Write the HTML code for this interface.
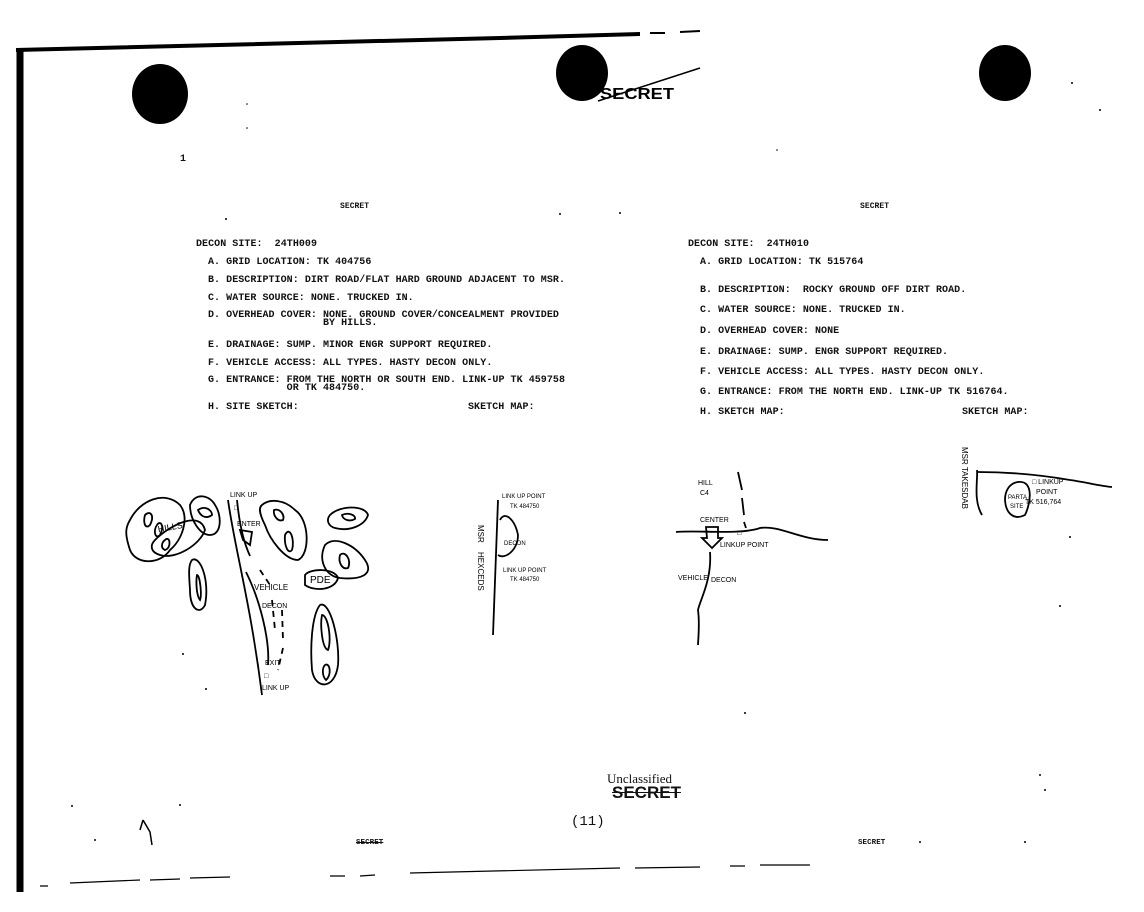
<!DOCTYPE html>
<html><head><meta charset="utf-8"><style>
body{margin:0;width:1144px;height:912px;background:#fff;position:relative;overflow:hidden;font-family:"Liberation Mono",monospace;}
.t{position:absolute;font-size:10px;font-weight:bold;white-space:pre;color:#111;line-height:10px;letter-spacing:0.05px}
svg{position:absolute;left:0;top:0}
</style></head><body>
<svg width="1144" height="912" viewBox="0 0 1144 912">
<g fill="none" stroke="#000">
<path d="M16 50 L500 38 L640 34" stroke-width="4"/>
<path d="M650 33 L665 33 M680 32 L700 31" stroke-width="2"/>
<path d="M20 48 L20 892" stroke-width="7"/>
<path d="M40 886 L48 886 M70 883 L140 880 M150 880 L180 879 M190 878 L230 877 M330 876 L345 876 M360 876 L375 875 M410 873 L620 868 M635 868 L700 867 M730 866 L745 866 M760 865 L810 865" stroke-width="1.2"/>
<path d="M598 101 L700 68" stroke-width="1.5"/>
<path d="M140 830 L143 820 M143 820 L150 832 L152 845" stroke-width="1.5"/>
</g>
<ellipse cx="160" cy="94" rx="28" ry="30" fill="#000"/>
<ellipse cx="582" cy="73" rx="26" ry="28" fill="#000"/>
<ellipse cx="1005" cy="73" rx="26" ry="28" fill="#000"/>
<text x="600" y="99" font-family="Liberation Sans Narrow,Liberation Sans,sans-serif" font-weight="bold" font-size="16" fill="#000" textLength="74" lengthAdjust="spacingAndGlyphs">SECRET</text>
<!-- left sketch -->
<g fill="none" stroke="#000" stroke-width="1.8">
<path d="M130 520 C140 500 165 490 180 505 C190 518 182 540 170 550 C160 565 136 565 130 550 C125 535 125 528 130 520Z"/>
<path d="M145 515 C150 510 155 515 150 525 C145 530 143 522 145 515Z"/>
<path d="M157 525 C160 520 165 525 160 535 C155 540 153 530 157 525Z"/>
<path d="M155 540 C170 525 200 510 205 530 C200 545 175 560 160 555 C150 552 150 545 155 540Z"/>
<path d="M165 540 C170 535 172 548 165 550 C160 548 162 542 165 540Z"/>
<path d="M190 505 C195 492 210 495 215 505 C222 515 222 535 210 535 C200 535 190 520 190 505Z"/>
<path d="M198 510 C205 505 212 510 212 515 C205 520 200 515 198 510Z"/>
<path d="M192 560 C200 555 210 580 205 605 C200 615 190 610 190 590 C189 575 188 565 192 560Z"/>
<path d="M197 575 C200 575 202 595 200 600 C196 595 196 580 197 575Z"/>
<path d="M228 500 C235 550 250 600 262 695" />
<path d="M237 500 C240 530 245 545 250 556"/>
<path d="M246 572 C260 600 270 640 268 665"/>
<path d="M260 570 L270 585 M272 600 L275 630 M282 610 L283 640 M283 648 L278 670" stroke-dasharray="6 5"/>
<path d="M262 505 C270 498 285 500 295 510 C310 520 310 555 298 560 C285 560 270 540 265 525 C260 515 258 508 262 505Z"/>
<path d="M274 510 C280 508 285 515 283 520 C278 522 273 516 274 510Z"/>
<path d="M285 535 C290 525 295 540 292 550 C288 555 284 545 285 535Z"/>
<path d="M330 515 C340 505 365 505 368 515 C365 525 350 532 335 528 C328 526 326 520 330 515Z"/>
<path d="M342 515 C348 512 356 515 355 519 C350 522 343 520 342 515Z"/>
<path d="M325 545 C335 535 355 545 365 560 C375 575 360 580 340 578 C325 576 318 560 325 545Z"/>
<path d="M340 555 C345 550 352 560 348 568 C342 570 338 562 340 555Z"/>
<path d="M305 575 C310 568 335 568 338 578 C335 590 315 592 305 585Z"/>
<path d="M320 605 C330 600 340 640 338 665 C335 690 315 690 312 670 C310 645 312 615 320 605Z"/>
<path d="M322 615 C328 615 332 640 328 650 C322 648 320 625 322 615Z"/>
<path d="M325 665 C330 662 332 675 326 680 C322 676 322 668 325 665Z"/>
<path d="M240 530 L252 532 L250 545 L243 540Z"/>
<path d="M498 500 L493 635"/>
<path d="M500 520 C505 510 515 520 518 535 C518 550 505 560 498 555"/>
</g>
<g font-family="Liberation Sans,sans-serif" font-size="7" fill="#000">
<text x="230" y="497">LINK UP</text><text x="234" y="510">□</text><text x="237" y="526">ENTER</text>
<text x="158" y="532" font-size="9" transform="rotate(-10 160 530)">HILLS</text>
<text x="254" y="590" font-size="8">VEHICLE</text><text x="262" y="608" font-size="7">DECON</text>
<text x="310" y="583" font-size="10">PDE</text>
<text x="265" y="665">EXIT</text><text x="264" y="678">□</text><text x="262" y="690">LINK UP</text>
<text x="502" y="498" font-size="6">LINK UP POINT</text><text x="510" y="508" font-size="6">TK 484750</text>
<text x="504" y="545" font-size="6">DECON</text>
<text x="503" y="572" font-size="6">LINK UP POINT</text><text x="510" y="581" font-size="6">TK 484750</text>
<text transform="translate(478 525) rotate(90)" font-size="8">MSR</text>
<text transform="translate(478 552) rotate(90)" font-size="8">HEXCEDS</text>
</g>
<!-- right sketches -->
<g fill="none" stroke="#000" stroke-width="1.8">
<path d="M676 532 C700 530 740 535 760 528 C780 525 800 540 828 540"/>
<path d="M738 472 L742 490 M742 498 L744 515 M744 522 L746 528" />
<path d="M706 527 L718 527 L718 538 L722 538 L712 548 L702 538 L707 538Z"/>
<path d="M710 552 C712 580 700 600 698 610 C700 625 698 640 698 645"/>
<path d="M977 470 C978 480 973 500 982 515"/>
<path d="M978 472 C1000 472 1030 473 1070 480 C1085 482 1100 486 1112 487"/>
<path d="M1018 482 C1035 480 1030 505 1025 515 C1015 520 1006 515 1005 500 C1005 490 1010 483 1018 482Z"/>
</g>
<g font-family="Liberation Sans,sans-serif" font-size="7" fill="#000">
<text x="698" y="485">HILL</text><text x="700" y="495">C4</text>
<text x="700" y="522">CENTER</text><text x="737" y="535">□</text>
<text x="720" y="547">LINKUP POINT</text>
<text x="678" y="580">VEHICLE</text><text x="711" y="582">DECON</text>
<text x="1032" y="484">□ LINKUP</text><text x="1036" y="494">POINT</text><text x="1025" y="504">TK 516,764</text>
<text x="1008" y="499" font-size="6">PARTA</text><text x="1010" y="508" font-size="6">SITE</text>
<text transform="translate(962 447) rotate(90)" font-size="8">MSR TAKESDAB</text>
</g>
<g fill="#000">
<circle cx="247" cy="104" r="0.8"/><circle cx="247" cy="128" r="0.8"/><circle cx="1072" cy="83" r="1"/>
<circle cx="1100" cy="110" r="1"/><circle cx="777" cy="150" r="0.8"/><circle cx="226" cy="219" r="1"/>
<circle cx="560" cy="214" r="1"/><circle cx="620" cy="213" r="1"/><circle cx="1070" cy="537" r="1"/>
<circle cx="1060" cy="606" r="1"/><circle cx="1040" cy="775" r="1"/><circle cx="1045" cy="790" r="1"/>
<circle cx="180" cy="805" r="1"/><circle cx="72" cy="806" r="1"/><circle cx="745" cy="713" r="1"/>
<circle cx="183" cy="654" r="1"/><circle cx="206" cy="689" r="1"/><circle cx="1025" cy="842" r="1"/>
<circle cx="920" cy="842" r="1"/><circle cx="95" cy="840" r="1"/>
</g>
</svg>
<div class="t" style="left:180px;top:155px">1</div>
<div class="t" style="left:340px;top:202px;font-size:8px">SECRET</div>
<div class="t" style="left:860px;top:202px;font-size:8px">SECRET</div>
<div class="t" style="left:196px;top:240px">DECON SITE:  24TH009</div>
<div class="t" style="left:208px;top:258px">A. GRID LOCATION: TK 404756</div>
<div class="t" style="left:208px;top:276px">B. DESCRIPTION: DIRT ROAD/FLAT HARD GROUND ADJACENT TO MSR.</div>
<div class="t" style="left:208px;top:294px">C. WATER SOURCE: NONE. TRUCKED IN.</div>
<div class="t" style="left:208px;top:312px;line-height:8px">D. OVERHEAD COVER: NONE. GROUND COVER/CONCEALMENT PROVIDED
                   BY HILLS.</div>
<div class="t" style="left:208px;top:341px">E. DRAINAGE: SUMP. MINOR ENGR SUPPORT REQUIRED.</div>
<div class="t" style="left:208px;top:359px">F. VEHICLE ACCESS: ALL TYPES. HASTY DECON ONLY.</div>
<div class="t" style="left:208px;top:377px;line-height:8px">G. ENTRANCE: FROM THE NORTH OR SOUTH END. LINK-UP TK 459758
             OR TK 484750.</div>
<div class="t" style="left:208px;top:403px">H. SITE SKETCH:</div>
<div class="t" style="left:468px;top:403px">SKETCH MAP:</div>
<div class="t" style="left:688px;top:240px">DECON SITE:  24TH010</div>
<div class="t" style="left:700px;top:258px">A. GRID LOCATION: TK 515764</div>
<div class="t" style="left:700px;top:286px">B. DESCRIPTION:  ROCKY GROUND OFF DIRT ROAD.</div>
<div class="t" style="left:700px;top:306px">C. WATER SOURCE: NONE. TRUCKED IN.</div>
<div class="t" style="left:700px;top:327px">D. OVERHEAD COVER: NONE</div>
<div class="t" style="left:700px;top:348px">E. DRAINAGE: SUMP. ENGR SUPPORT REQUIRED.</div>
<div class="t" style="left:700px;top:368px">F. VEHICLE ACCESS: ALL TYPES. HASTY DECON ONLY.</div>
<div class="t" style="left:700px;top:388px">G. ENTRANCE: FROM THE NORTH END. LINK-UP TK 516764.</div>
<div class="t" style="left:700px;top:408px">H. SKETCH MAP:</div>
<div class="t" style="left:962px;top:408px">SKETCH MAP:</div>
<div style="position:absolute;left:607px;top:771px;font-family:'Liberation Serif',serif;font-size:13px;color:#111">Unclassified</div>
<div style="position:absolute;left:612px;top:783px;font-family:'Liberation Sans',sans-serif;font-size:17px;font-weight:bold;color:#111;text-decoration:line-through">SECRET</div>
<div style="position:absolute;left:571px;top:814px;font-family:'Liberation Mono',monospace;font-size:14px;color:#111">(11)</div>
<div class="t" style="left:356px;top:838px;font-size:7.5px;text-decoration:line-through">SECRET</div>
<div class="t" style="left:858px;top:838px;font-size:7.5px">SECRET</div>
</body></html>
